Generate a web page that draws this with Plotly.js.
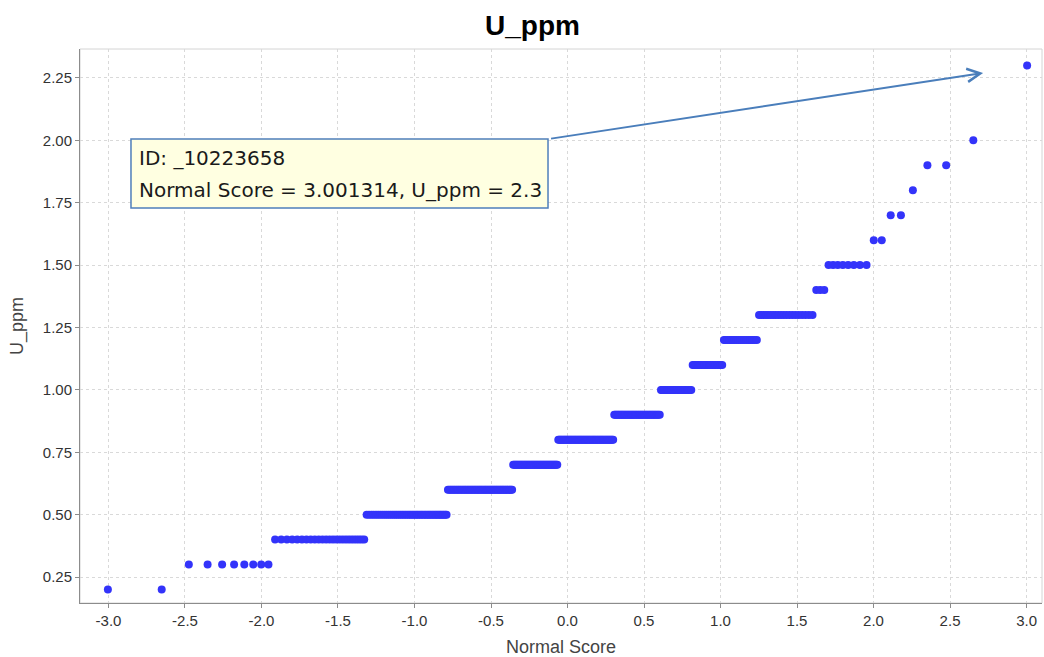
<!DOCTYPE html>
<html><head><meta charset="utf-8">
<script src="https://cdn.plot.ly/plotly-3.0.1.min.js"></script>
<style>html,body{margin:0;padding:0;background:#fff}</style>
</head><body>
<div id="chart" style="width:1044px;height:657px"></div>
<script>
// U_ppm levels and how many samples sit at each level
const uValues = [0.2, 0.3, 0.4, 0.5, 0.6, 0.7, 0.8, 0.9, 1.0, 1.1, 1.2, 1.3, 1.4, 1.5, 1.6, 1.7, 1.8, 1.9, 2.0, 2.3];
const uCounts = [2, 8, 25, 46, 54, 43, 54, 41, 24, 20, 18, 20, 3, 8, 2, 2, 1, 2, 1, 1];
const xTickVals = [-3.0, -2.5, -2.0, -1.5, -1.0, -0.5, 0.0, 0.5, 1.0, 1.5, 2.0, 2.5, 3.0];
const yTickVals = [0.25, 0.50, 0.75, 1.00, 1.25, 1.50, 1.75, 2.00, 2.25];
const tipLines = ['ID: _10223658', 'Normal Score = 3.001314, U_ppm = 2.3'];

// inverse standard normal CDF (Acklam)
function invNorm(p) {
  const a = [-3.969683028665376e+01, 2.209460984245205e+02, -2.759285104469687e+02, 1.383577518672690e+02, -3.066479806614716e+01, 2.506628277459239e+00];
  const b = [-5.447609879822406e+01, 1.615858368580409e+02, -1.556989798598866e+02, 6.680131188771972e+01, -1.328068155288572e+01];
  const c = [-7.784894002430293e-03, -3.223964580411365e-01, -2.400758277161838e+00, -2.549732539343734e+00, 4.374664141464968e+00, 2.938163982698783e+00];
  const d = [7.784695709041462e-03, 3.224671290700398e-01, 2.445134137142996e+00, 3.754408661907416e+00];
  const pl = 0.02425, ph = 1 - pl;
  let q, r;
  if (p < pl) { q = Math.sqrt(-2 * Math.log(p)); return (((((c[0]*q+c[1])*q+c[2])*q+c[3])*q+c[4])*q+c[5]) / ((((d[0]*q+d[1])*q+d[2])*q+d[3])*q+1); }
  if (p <= ph) { q = p - 0.5; r = q*q; return (((((a[0]*r+a[1])*r+a[2])*r+a[3])*r+a[4])*r+a[5])*q / (((((b[0]*r+b[1])*r+b[2])*r+b[3])*r+b[4])*r+1); }
  q = Math.sqrt(-2 * Math.log(1 - p)); return -(((((c[0]*q+c[1])*q+c[2])*q+c[3])*q+c[4])*q+c[5]) / ((((d[0]*q+d[1])*q+d[2])*q+d[3])*q+1);
}

// normal scores of the ranked sample
const sample = [];
uValues.forEach((v, k) => { for (let j = 0; j < uCounts[k]; j++) sample.push(v); });
const n = sample.length;
const xs = sample.map((v, i) => invNorm((i + 0.5) / n));

const trace = {
  type: 'scatter', mode: 'markers', x: xs, y: sample,
  marker: { color: '#3333fa', size: 8, line: { width: 0 } },
  hoverinfo: 'x+y', showlegend: false
};

const tickFont = { family: 'Liberation Sans, Arial, sans-serif', size: 15, color: '#333' };
const axisTitleFont = { family: 'Liberation Sans, Arial, sans-serif', size: 18, color: '#444' };

const layout = {
  width: 1044, height: 657,
  margin: { l: 80, r: 2, t: 49, b: 54 },
  paper_bgcolor: '#ffffff', plot_bgcolor: '#ffffff',
  title: { text: '<b>U_ppm</b>', x: 0.51, xanchor: 'center', y: 0.962, yanchor: 'middle',
           font: { family: 'Liberation Sans, Arial, sans-serif', size: 28, color: '#000' } },
  xaxis: {
    range: [-3.186, 3.101], tickvals: xTickVals, ticktext: xTickVals.map(v => v.toFixed(1)),
    showgrid: true, gridcolor: '#d9d9d9', griddash: '3px,3px', gridwidth: 1,
    zeroline: false, showline: true, linecolor: '#8c8c8c', linewidth: 1,
    ticks: 'outside', ticklen: 4, tickcolor: '#8c8c8c', tickfont: tickFont,
    title: { text: 'Normal Score', font: axisTitleFont, standoff: 14 }
  },
  yaxis: {
    range: [0.146, 2.366], tickvals: yTickVals, ticktext: yTickVals.map(v => v.toFixed(2)),
    showgrid: true, gridcolor: '#d9d9d9', griddash: '3px,3px', gridwidth: 1,
    zeroline: false, showline: true, linecolor: '#8c8c8c', linewidth: 1,
    ticks: 'outside', ticklen: 4, tickcolor: '#8c8c8c', tickfont: tickFont,
    title: { text: 'U_ppm', font: axisTitleFont, standoff: 14 }
  },
  shapes: [
    { type: 'rect', xref: 'paper', yref: 'paper', x0: 0, x1: 1, y0: 0, y1: 1,
      line: { color: '#d4d4d4', width: 1 }, layer: 'below' },
    { type: 'rect', xref: 'paper', yref: 'paper', x0: 0.053, x1: 0.4865, y0: 0.713, y1: 0.8375,
      fillcolor: '#ffffe1', line: { color: '#4f7fba', width: 1.5 }, layer: 'above' }
  ],
  annotations: [
    { xref: 'x', yref: 'y', x: 2.716, y: 2.27, axref: 'x', ayref: 'y', ax: -0.127, ay: 2.005,
      text: ' ', showarrow: true, arrowhead: 5, arrowsize: 1.3, arrowwidth: 2, arrowcolor: '#4a7ebb',
      standoff: 0, startstandoff: 0 },
    { xref: 'paper', yref: 'paper', x: 0.0593, y: 0.8036, xanchor: 'left', yanchor: 'middle',
      text: tipLines[0], showarrow: false, font: { family: 'DejaVu Sans, sans-serif', size: 20, color: '#1a1a1a' } },
    { xref: 'paper', yref: 'paper', x: 0.0593, y: 0.7446, xanchor: 'left', yanchor: 'middle',
      text: tipLines[1], showarrow: false, font: { family: 'DejaVu Sans, sans-serif', size: 20, color: '#1a1a1a' } }
  ]
};

Plotly.newPlot('chart', [trace], layout, { displayModeBar: false, staticPlot: true });
</script>
</body></html>
